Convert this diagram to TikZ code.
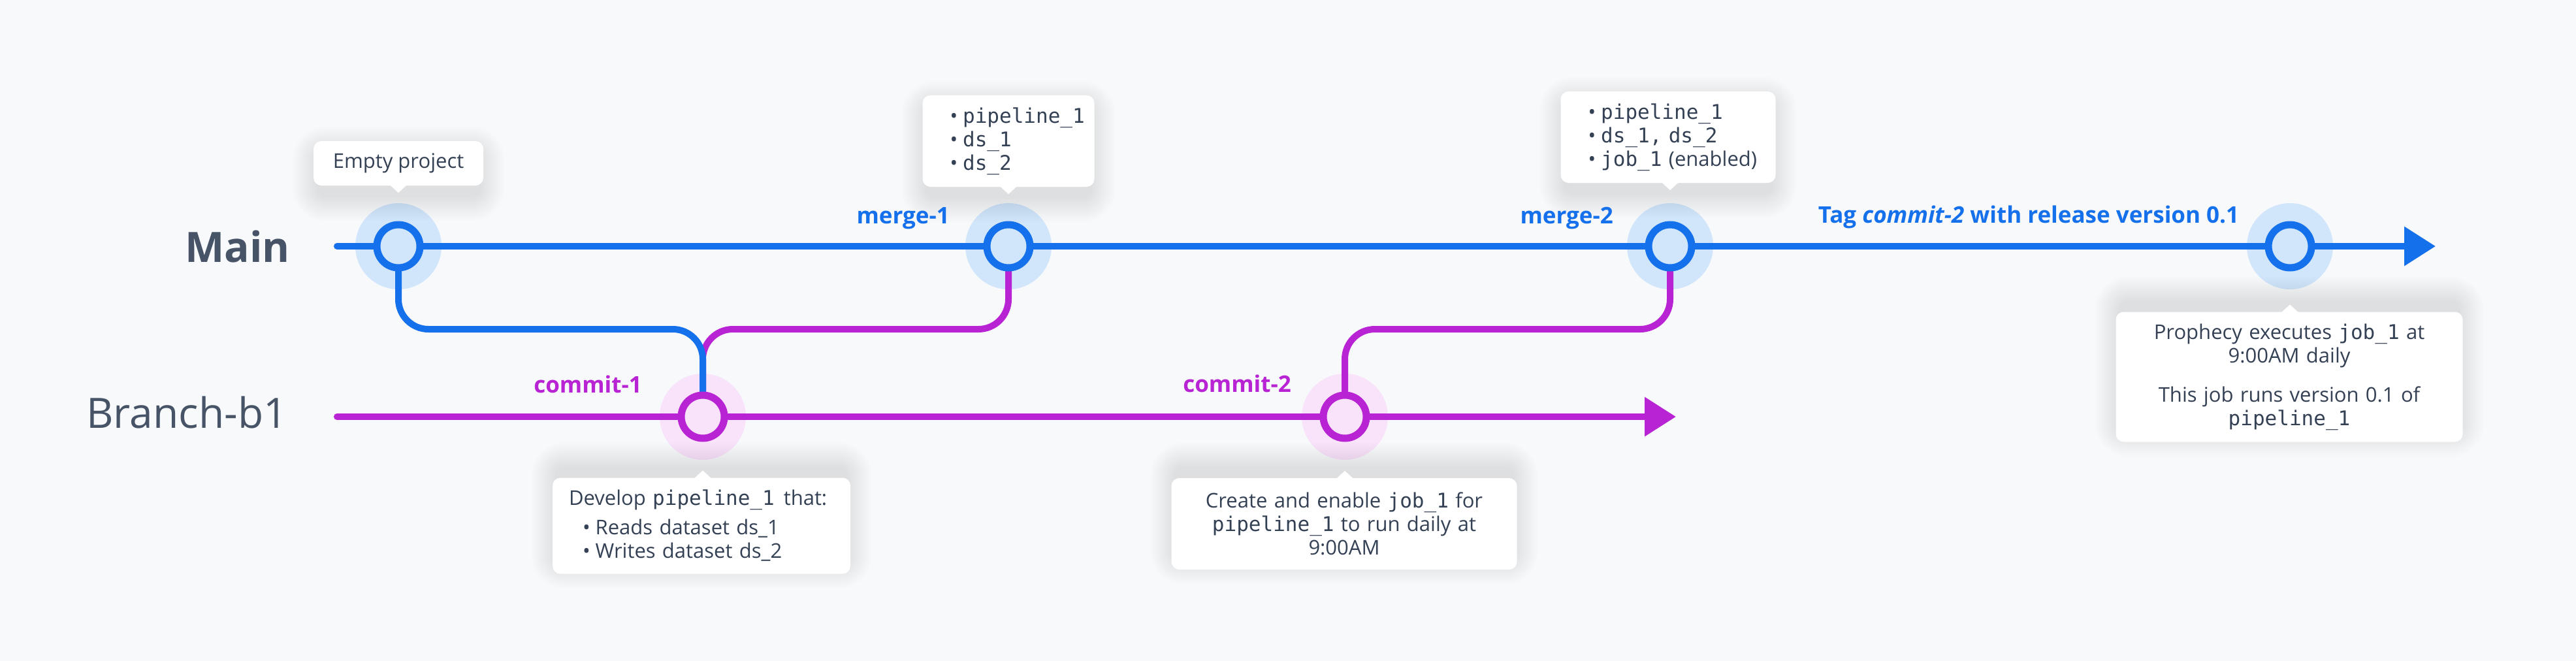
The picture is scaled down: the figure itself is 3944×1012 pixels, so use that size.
\documentclass[tikz,border=0pt]{standalone}
\usepackage{fontspec}
\setmainfont{Open Sans}
\setmonofont{DejaVu Sans Mono}
\usetikzlibrary{arrows.meta,calc}
\definecolor{bg}{HTML}{F8F9FB}
\definecolor{cblue}{HTML}{1570EB}
\definecolor{cmag}{HTML}{B824D3}
\definecolor{hblue}{HTML}{D1E6FB}
\definecolor{hpink}{HTML}{F9E3FB}
\definecolor{txt}{HTML}{344054}
\definecolor{ttl}{HTML}{475467}
\newcommand\softshadow[5]{%
  \foreach \k in {2,5,...,38}{%
    \fill[black,opacity=0.006,rounded corners={12+\k}] ({#1-#3/2-\k+6},{#2-#4/2-\k+#5}) rectangle ({#1+#3/2+\k-6},{#2+#4/2+\k+#5});
  }}
\newcommand\mybul[1]{\hspace*{#1pt}\textbullet\hspace{8pt}}
\begin{document}
\begin{tikzpicture}[x=1pt,y=-1pt,
  halo/.style={circle,inner sep=0pt,minimum size=132pt},
  ring/.style={circle,inner sep=0pt,minimum size=66pt,line width=11pt},
  wire/.style={line width=10pt},
  arrowend/.style={-{Triangle[length=48pt,width=58pt]}},
  cbox/.style={fill=white,rounded corners=12pt,inner sep=0pt,text=txt,font=\fontsize{31}{36}\selectfont},
  lbl/.style={inner sep=0pt,font=\fontsize{35}{42}\selectfont\bfseries},
  lanetitle/.style={inner sep=0pt,text=ttl,font=\fontsize{64}{76}\selectfont},
]
\fill[bg] (0,0) rectangle (3944,1012);
\useasboundingbox (0,0) rectangle (3944,1012);

% halos
\node[halo,fill=hblue] (h0) at (610,377) {};
\node[halo,fill=hblue] (h1) at (1544,377) {};
\node[halo,fill=hblue] (h2) at (2557,377) {};
\node[halo,fill=hblue] (h3) at (3506,377) {};
\node[halo,fill=hpink] (hc1) at (1076,638) {};
\node[halo,fill=hpink] (hc2) at (2059,638) {};

% free ends and junction points
\coordinate (ms) at (516,377);
\coordinate (me) at (3729,377);
\coordinate (bs) at (516,638);
\coordinate (be) at (2566,638);
\coordinate (j1) at (800,504);
\coordinate (j2) at (1300,504);
\coordinate (j3) at (2300,504);

% wires
\draw[wire,cmag,line cap=round,arrowend] (bs) -- (be);
\draw[wire,cmag,rounded corners=46pt] (hc1.center) |- (j2) -| (h1.center);
\draw[wire,cmag,rounded corners=46pt] (hc2.center) |- (j3) -| (h2.center);
\draw[wire,cblue,line cap=round,arrowend] (ms) -- (me);
\draw[wire,cblue,rounded corners=46pt] (h0.center) |- (j1) -| (hc1.center);

% rings
\node[ring,draw=cblue,fill=hblue] (n0) at (h0) {};
\node[ring,draw=cblue,fill=hblue] (n1) at (h1) {};
\node[ring,draw=cblue,fill=hblue] (n2) at (h2) {};
\node[ring,draw=cblue,fill=hblue] (n3) at (h3) {};
\node[ring,draw=cmag,fill=hpink] (c1) at (hc1) {};
\node[ring,draw=cmag,fill=hpink] (c2) at (hc2) {};

% callout boxes
\softshadow{610}{250}{260}{68}{16}
\node[cbox,minimum width=260pt,minimum height=68pt,align=center] (b0) at (610,250) {Empty project};
\fill[white] ($(b0.south -| h0.center)+(-13,-1)$) -- ($(b0.south -| h0.center)+(0,11)$) -- ($(b0.south -| h0.center)+(13,-1)$) -- cycle;

\softshadow{1544}{216}{263}{140}{16}
\node[cbox,text width=263pt,minimum height=140pt,align=left] (b1) at (1544,216)
  {\mybul{42}\texttt{pipeline\_1}\\\mybul{42}\texttt{ds\_1}\\\mybul{42}\texttt{ds\_2}};
\fill[white] ($(b1.south -| h1.center)+(-13,-1)$) -- ($(b1.south -| h1.center)+(0,11)$) -- ($(b1.south -| h1.center)+(13,-1)$) -- cycle;

\softshadow{2554}{210}{329}{140}{16}
\node[cbox,text width=329pt,minimum height=140pt,align=left] (b2) at (2554,210)
  {\mybul{42}\texttt{pipeline\_1}\\\mybul{42}\texttt{ds\_1, ds\_2}\\\mybul{42}\texttt{job\_1} (enabled)};
\fill[white] ($(b2.south -| h2.center)+(-13,-1)$) -- ($(b2.south -| h2.center)+(0,11)$) -- ($(b2.south -| h2.center)+(13,-1)$) -- cycle;

\softshadow{1074}{805}{456}{147}{-16}
\node[cbox,text width=456pt,minimum height=147pt,align=left] (b3) at (1074,805)
  {\hspace*{25pt}Develop \texttt{pipeline\_1}\hspace{14pt}that:\\[9pt]\mybul{46}Reads dataset ds\_1\\\mybul{46}Writes dataset ds\_2};
\fill[white] ($(b3.north -| hc1.center)+(-13,1)$) -- ($(b3.north -| hc1.center)+(0,-11)$) -- ($(b3.north -| hc1.center)+(13,1)$) -- cycle;

\softshadow{2058}{802}{529}{140}{-16}
\node[cbox,text width=529pt,minimum height=140pt,align=center] (b4) at (2058,802)
  {Create and enable \texttt{job\_1} for\\\texttt{pipeline\_1} to run daily at\\9:00AM};
\fill[white] ($(b4.north -| hc2.center)+(-13,1)$) -- ($(b4.north -| hc2.center)+(0,-11)$) -- ($(b4.north -| hc2.center)+(13,1)$) -- cycle;

\softshadow{3505}{577}{531}{199}{-16}
\node[cbox,text width=531pt,minimum height=199pt,align=center] (b5) at (3505,577)
  {Prophecy executes \texttt{job\_1} at\\9:00AM daily\\[24pt]This job runs version 0.1 of\\\texttt{pipeline\_1}};
\fill[white] ($(b5.north -| h3.center)+(-13,1)$) -- ($(b5.north -| h3.center)+(0,-11)$) -- ($(b5.north -| h3.center)+(13,1)$) -- cycle;

% labels
\node[lbl,text=cblue,anchor=base east] (l1) at (1454,342) {merge-1};
\node[lbl,text=cblue,anchor=base east] (l2) at (2470,342) {merge-2};
\node[lbl,text=cblue,anchor=base] (l3) at (3106,341) {Tag \textit{commit-2} with release version 0.1};
\node[lbl,text=cmag,anchor=base east] (l4) at (983,601) {commit-1};
\node[lbl,text=cmag,anchor=base east] (l5) at (1977,600) {commit-2};
\node[lanetitle,font=\fontsize{64}{76}\selectfont\bfseries,anchor=base east] (tm) at (444,401) {Main};
\node[lanetitle,anchor=base east] (tb) at (440,655) {Branch-b1};
\end{tikzpicture}
\end{document}
